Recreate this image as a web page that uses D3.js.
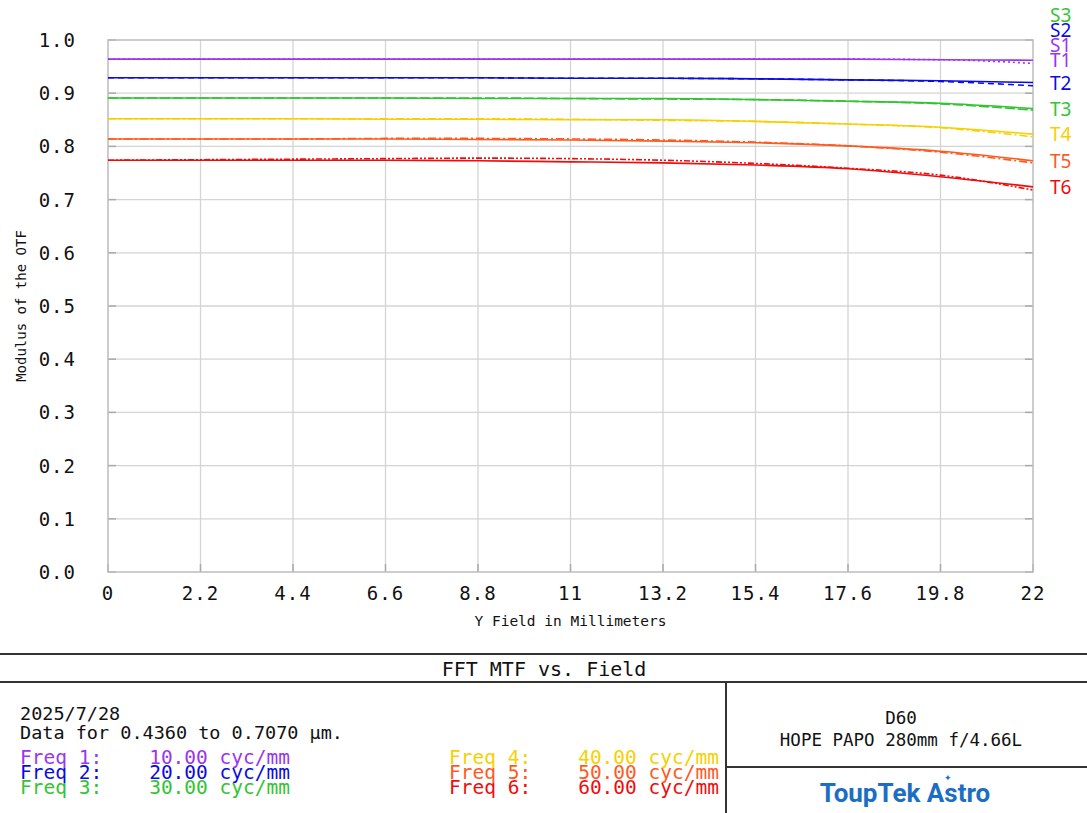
<!DOCTYPE html>
<html>
<head>
<meta charset="utf-8">
<script src="https://cdn.jsdelivr.net/npm/d3@7"></script>
<style>
  html, body { margin: 0; padding: 0; background: #fff; }
  svg { display: block; }
</style>
</head>
<body>
<svg id="chart" width="1087" height="813"></svg>
<script>
// field positions (mm)
const fields = [0, 2.2, 4.4, 6.6, 8.8, 11, 13.2, 15.4, 17.6, 19.8, 22];
const xTicks = [0, 2.2, 4.4, 6.6, 8.8, 11, 13.2, 15.4, 17.6, 19.8, 22];
const xTickLabels = ['0', '2.2', '4.4', '6.6', '8.8', '11', '13.2', '15.4', '17.6', '19.8', '22'];
const yTicks = [0, 0.1, 0.2, 0.3, 0.4, 0.5, 0.6, 0.7, 0.8, 0.9, 1.0];

// tangential / sagittal MTF per frequency
const tan1 = [0.964, 0.964, 0.964, 0.964, 0.964, 0.964, 0.964, 0.964, 0.964, 0.963, 0.962];
const sag1 = [0.964, 0.964, 0.964, 0.964, 0.964, 0.964, 0.964, 0.964, 0.964, 0.963, 0.956];
const tan2 = [0.929, 0.929, 0.929, 0.929, 0.929, 0.928, 0.928, 0.927, 0.925, 0.9235, 0.920];
const sag2 = [0.929, 0.929, 0.929, 0.929, 0.929, 0.928, 0.928, 0.927, 0.925, 0.922, 0.914];
const tan3 = [0.891, 0.891, 0.891, 0.891, 0.890, 0.890, 0.890, 0.888, 0.885, 0.881, 0.871];
const sag3 = [0.891, 0.891, 0.891, 0.891, 0.891, 0.890, 0.889, 0.888, 0.885, 0.880, 0.868];
const tan4 = [0.852, 0.852, 0.852, 0.851, 0.851, 0.850, 0.850, 0.847, 0.842, 0.836, 0.823];
const sag4 = [0.852, 0.852, 0.852, 0.852, 0.852, 0.851, 0.849, 0.847, 0.842, 0.835, 0.818];
const tan5 = [0.814, 0.814, 0.814, 0.814, 0.813, 0.812, 0.810, 0.807, 0.801, 0.791, 0.773];
const sag5 = [0.814, 0.814, 0.814, 0.815, 0.815, 0.814, 0.812, 0.808, 0.801, 0.789, 0.769];
const tan6 = [0.774, 0.774, 0.774, 0.774, 0.773, 0.771, 0.769, 0.765, 0.758, 0.743, 0.724];
const sag6 = [0.774, 0.775, 0.776, 0.777, 0.778, 0.777, 0.774, 0.768, 0.759, 0.746, 0.718];

const freqs = ['10.00', '20.00', '30.00', '40.00', '50.00', '60.00'];
const colors = ['#9b35ef', '#0a0ae6', '#33c433', '#f7d000', '#ff5a1e', '#f00c0c'];
const sagDash = ['2,3', '6,4', '10,3', '8,3,2,3', '8,3,2,3', '6,2,2,2,2,2'];

const tanSeries = [tan1, tan2, tan3, tan4, tan5, tan6];
const sagSeries = [sag1, sag2, sag3, sag4, sag5, sag6];

const mono = '"DejaVu Sans Mono", monospace';
const svg = d3.select('#chart');

const x = d3.scaleLinear().domain([0, 22]).range([108, 1033]);
const y = d3.scaleLinear().domain([0, 1]).range([572, 40]);

// grid
const grid = svg.append('g').attr('stroke', '#d4d4d4').attr('stroke-width', 1.3);
grid.selectAll('line.v').data(xTicks.slice(1, -1)).enter().append('line')
  .attr('x1', d => x(d)).attr('x2', d => x(d)).attr('y1', y(1)).attr('y2', y(0));
grid.selectAll('line.h').data(yTicks.slice(1, -1)).enter().append('line')
  .attr('x1', x(0)).attr('x2', x(22)).attr('y1', d => y(d)).attr('y2', d => y(d));

// small inner tick marks
const ticks = svg.append('g').attr('stroke', '#aaa').attr('stroke-width', 1.5);
ticks.selectAll('line.l').data(yTicks).enter().append('line')
  .attr('x1', x(0)).attr('x2', x(0) + 8).attr('y1', d => y(d)).attr('y2', d => y(d));
ticks.selectAll('line.r').data(yTicks).enter().append('line')
  .attr('x1', x(22) - 8).attr('x2', x(22)).attr('y1', d => y(d)).attr('y2', d => y(d));
ticks.selectAll('line.b').data(xTicks).enter().append('line')
  .attr('x1', d => x(d)).attr('x2', d => x(d)).attr('y1', y(0)).attr('y2', y(0) - 8);

svg.append('rect')
  .attr('x', x(0)).attr('y', y(1))
  .attr('width', x(22) - x(0)).attr('height', y(0) - y(1))
  .attr('fill', 'none').attr('stroke', '#bcbcbc').attr('stroke-width', 1.5);

// axes labels
svg.append('g').selectAll('text').data(yTicks).enter().append('text')
  .attr('x', 76).attr('y', d => y(d) + 7)
  .attr('text-anchor', 'end')
  .attr('font-family', mono).attr('font-size', 19).attr('letter-spacing', 1)
  .attr('fill', '#111')
  .text(d => d.toFixed(1));

svg.append('g').selectAll('text').data(xTicks).enter().append('text')
  .attr('x', d => x(d)).attr('y', 600)
  .attr('text-anchor', 'middle')
  .attr('font-family', mono).attr('font-size', 19).attr('letter-spacing', 1)
  .attr('fill', '#111')
  .text((d, i) => xTickLabels[i]);

svg.append('text')
  .attr('x', x(11)).attr('y', 626)
  .attr('text-anchor', 'middle')
  .attr('font-family', mono).attr('font-size', 14.5)
  .attr('fill', '#111')
  .text('Y Field in Millimeters');

svg.append('text')
  .attr('transform', `translate(26,${(y(0) + y(1)) / 2 + 0}) rotate(-90)`)
  .attr('text-anchor', 'middle')
  .attr('font-family', mono).attr('font-size', 14)
  .attr('fill', '#111')
  .text('Modulus of the OTF');

// curves
const line = d3.line()
  .x((d, i) => x(fields[i]))
  .y(d => y(d))
  .curve(d3.curveMonotoneX);

const curves = svg.append('g').attr('fill', 'none').attr('stroke-width', 1.6);
sagSeries.forEach((s, i) => {
  curves.append('path').attr('d', line(s))
    .attr('stroke', colors[i]).attr('stroke-dasharray', sagDash[i]);
});
tanSeries.forEach((s, i) => {
  curves.append('path').attr('d', line(s))
    .attr('stroke', colors[i]);
});

// series labels at the right edge
const labelFont = '"Noto Sans", "DejaVu Sans", sans-serif';
const lbl = svg.append('g').attr('font-family', labelFont).attr('font-size', 19);
tanSeries.forEach((s, i) => {
  lbl.append('text')
    .attr('x', 1050).attr('y', y(s[s.length - 1]) + 7)
    .attr('fill', colors[i])
    .text('T' + (i + 1));
});
const t1y = y(tan1[tan1.length - 1]);
[0, 1, 2].forEach(i => {
  lbl.append('text')
    .attr('x', 1050).attr('y', t1y - 15 * (i + 1) + 7)
    .attr('fill', colors[i])
    .text('S' + (i + 1));
});

// bottom info panel
const frame = svg.append('g').attr('stroke', '#333').attr('stroke-width', 2);
frame.append('line').attr('x1', 0).attr('x2', 1087).attr('y1', 654).attr('y2', 654);
frame.append('line').attr('x1', 0).attr('x2', 1087).attr('y1', 682).attr('y2', 682);
frame.append('line').attr('x1', 726).attr('x2', 726).attr('y1', 682).attr('y2', 813);
frame.append('line').attr('x1', 726).attr('x2', 1087).attr('y1', 767).attr('y2', 767);

svg.append('text')
  .attr('x', 544).attr('y', 676)
  .attr('text-anchor', 'middle')
  .attr('font-family', mono).attr('font-size', 20)
  .attr('fill', '#111')
  .text('FFT MTF vs. Field');

const info = svg.append('g').attr('font-family', mono).attr('fill', '#111');
info.append('text').attr('x', 20).attr('y', 720).attr('font-size', 18.5).text('2025/7/28');
info.append('text').attr('x', 20).attr('y', 739).attr('font-size', 18.5).text('Data for 0.4360 to 0.7070 \u00b5m.');

freqs.forEach((f, i) => {
  const col = i < 3 ? 20 : 449;
  const row = i % 3;
  svg.append('text')
    .attr('x', col).attr('y', 764 + row * 15)
    .attr('font-family', mono).attr('font-size', 19.5)
    .attr('fill', colors[i])
    .attr('xml:space', 'preserve')
    .style('white-space', 'pre')
    .text(`Freq ${i + 1}:    ${f} cyc/mm`);
});

const right = svg.append('g').attr('font-family', mono).attr('font-size', 17.5)
  .attr('fill', '#111').attr('text-anchor', 'middle');
right.append('text').attr('x', 901).attr('y', 724).text('D60');
right.append('text').attr('x', 901).attr('y', 746).text('HOPE PAPO 280mm f/4.66L');

// logo
const logo = svg.append('g');
logo.append('text')
  .attr('x', 905).attr('y', 802)
  .attr('text-anchor', 'middle')
  .attr('font-family', 'Roboto, "Noto Sans", sans-serif')
  .attr('font-weight', 700).attr('font-size', 26)
  .attr('fill', '#1b6ec4')
  .text('ToupTek Astro');
logo.append('text')
  .attr('x', 944).attr('y', 781)
  .attr('font-family', '"DejaVu Sans", sans-serif')
  .attr('font-size', 9)
  .attr('fill', '#1b6ec4')
  .text('\u2726');
</script>
</body>
</html>
